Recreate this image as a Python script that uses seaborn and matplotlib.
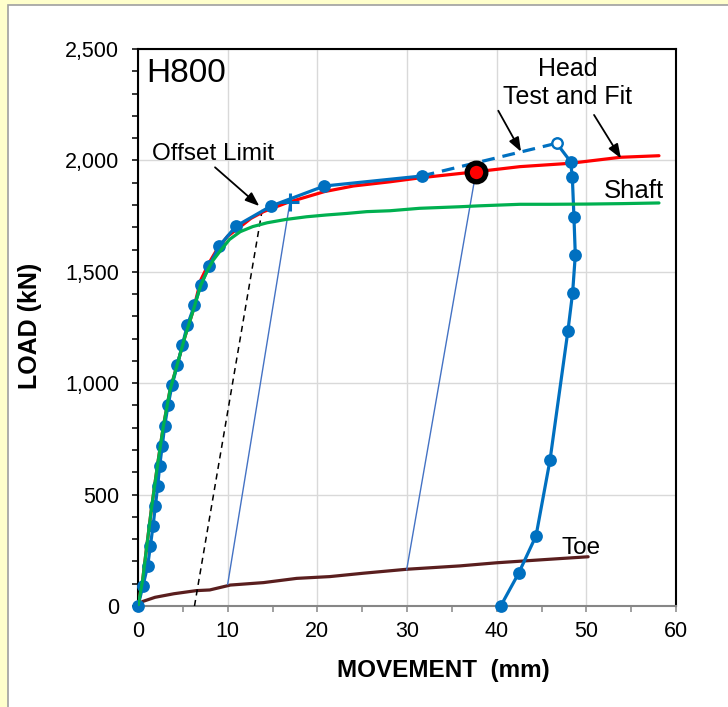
import matplotlib
matplotlib.use("Agg")
import matplotlib.pyplot as plt
import matplotlib.patches as mpatches
from matplotlib.ticker import FuncFormatter, MultipleLocator
import seaborn as sns

# ---------------- data ----------------
load_x = [0, 0.55, 1.08, 1.38, 1.68, 1.94, 2.20, 2.42, 2.71, 2.98, 3.35, 3.79, 4.38,
          4.94, 5.50, 6.30, 7.00, 7.92, 9.05, 10.93, 14.83, 20.78, 31.64]
load_y = [0, 90, 180, 270, 360, 450, 540, 630, 720, 810, 900, 990, 1080,
          1170, 1260, 1350, 1440, 1525, 1615, 1705, 1795, 1885, 1930]

extrap_x = [31.64, 46.69]
extrap_y = [1930, 2077]

unload_x = [46.69, 48.25, 48.44, 48.62, 48.77, 48.47, 47.95, 45.95, 44.39, 42.45, 40.45]
unload_y = [2077, 1994, 1924, 1744, 1575, 1406, 1236, 655, 315, 147, 0]

fit_x = [0, 0.52, 0.97, 1.53, 2.15, 2.82, 3.57, 4.31, 5.24, 6.17, 7.0, 8.0, 8.78,
         10.0, 11.4, 12.6, 14.0, 16.6, 20.8, 24.0, 28.1, 31.5, 37.7, 42.6, 48.2, 53.8, 58.1]
fit_y = [0, 117, 266, 446, 625, 805, 969, 1074, 1209, 1328, 1463, 1545, 1598,
         1660, 1702, 1740, 1770, 1810, 1860, 1885, 1904, 1922, 1949, 1972, 1987, 2014, 2021]

shaft_x = [0, 0.52, 0.97, 1.53, 2.15, 2.82, 3.57, 4.31, 5.24, 6.17, 7.0, 7.8, 8.4, 9.1,
           10.2, 11.4, 12.8, 14.4, 16.5, 18.8, 21.0, 23.3, 25.5, 28.1, 31.4, 35.9, 38.0,
           42.6, 46.0, 50.0, 54.0, 58.1]
shaft_y = [0, 117, 266, 446, 625, 805, 969, 1074, 1209, 1328, 1440, 1510, 1553, 1590,
           1645, 1680, 1703, 1720, 1735, 1747, 1755, 1762, 1770, 1774, 1785, 1792, 1796,
           1803, 1803, 1804, 1806, 1809]

toe_x = [0, 0.5, 1.9, 4.0, 6.5, 8.0, 10.3, 14.0, 17.7, 21.4, 25.1, 30.0, 35.9, 40.0, 45.6, 50.2]
toe_y = [0, 20, 39, 55, 69, 72, 94, 105, 124, 132, 147, 165, 180, 194, 209, 221]

offset_x = [6.3, 13.9]
offset_y = [0, 1790]

unl1_x = [10.0, 16.95]
unl1_y = [97, 1814]
unl2_x = [29.96, 37.69]
unl2_y = [162, 1949]

limit_pt = (16.95, 1814)
fit_pt = (37.69, 1949)

x_ticks = [0, 10, 20, 30, 40, 50, 60]
y_ticks = [0, 500, 1000, 1500, 2000, 2500]

# ---------------- style ----------------
sns.set_style("white")
plt.rcParams["font.family"] = ["Liberation Sans", "DejaVu Sans"]
plt.rcParams["text.color"] = "black"
plt.rcParams["axes.labelcolor"] = "black"
plt.rcParams["xtick.color"] = "black"
plt.rcParams["ytick.color"] = "black"

BLUE = "#0070C0"
RED = "#FF0000"
GREEN = "#00B050"
TOE = "#5A1E1E"
THIN = "#4472C4"

W, H = 728, 707
fig = plt.figure(figsize=(W / 100, H / 100), dpi=100, facecolor="#FFFFCC")
panel = mpatches.Rectangle((8 / W, -0.05), 1.2, (1 - 5 / H) + 0.05,
                           transform=fig.transFigure, facecolor="white",
                           edgecolor="#A0A0A0", lw=1.2, zorder=-10)
fig.patches.append(panel)

ax = fig.add_axes([138 / W, 1 - 606 / H, 538 / W, 557 / H])
ax.set_zorder(1)
ax.set_facecolor("white")


def line(x, y, **kw):
    sns.lineplot(x=x, y=y, sort=False, estimator=None, ax=ax, legend=False, **kw)


line(toe_x, toe_y, color=TOE, lw=2.3, zorder=3)
line(offset_x, offset_y, color="black", lw=1.1, linestyle=(0, (4, 3)), zorder=3)
line(unl1_x, unl1_y, color=THIN, lw=1.0, zorder=3)
line(unl2_x, unl2_y, color=THIN, lw=1.0, zorder=3)
line(fit_x, fit_y, color=RED, lw=2.3, zorder=4)
line(load_x, load_y, color=BLUE, lw=2.3, marker="o", markersize=9.2,
     markeredgecolor=BLUE, markeredgewidth=0, zorder=5, clip_on=False)
line(extrap_x, extrap_y, color=BLUE, lw=2.3, linestyle=(0, (4, 2.5)), zorder=5)
line(unload_x, unload_y, color=BLUE, lw=2.3, marker="o", markersize=9.2,
     markeredgecolor=BLUE, markeredgewidth=0, zorder=5, clip_on=False)
line(shaft_x, shaft_y, color=GREEN, lw=2.3, zorder=6)

# open circle at the last load point
sns.scatterplot(x=[unload_x[0]], y=[unload_y[0]], s=50, facecolor="white",
                edgecolor=BLUE, linewidth=1.3, zorder=7, ax=ax, legend=False)
# offset limit marker
sns.scatterplot(x=[limit_pt[0]], y=[limit_pt[1]], marker="+", s=170, color=BLUE,
                linewidth=2.2, zorder=7, ax=ax, legend=False)
# fit point
sns.scatterplot(x=[fit_pt[0]], y=[fit_pt[1]], s=180, facecolor=RED,
                edgecolor="black", linewidth=3.8, zorder=8, ax=ax, legend=False)

# ---------------- axes ----------------
ax.set_xlim(0, 60)
ax.set_ylim(0, 2500)
ax.set_xticks(x_ticks)
ax.set_yticks(y_ticks)
ax.xaxis.set_minor_locator(MultipleLocator(5))
ax.yaxis.set_minor_locator(MultipleLocator(100))
ax.yaxis.set_major_formatter(FuncFormatter(lambda v, p: f"{v:,.0f}"))
ax.grid(True, which="major", color="#D9D9D9", lw=1.0)
ax.set_axisbelow(True)

for s in ["top", "right", "left"]:
    ax.spines[s].set_color("black")
    ax.spines[s].set_linewidth(1.5)
ax.spines["bottom"].set_color("#868686")
ax.spines["bottom"].set_linewidth(1.5)

ax.tick_params(axis="y", which="both", direction="out", length=4.5, width=1.1,
               color="black", left=True, labelsize=15.5, pad=9, labelcolor="black")
ax.tick_params(axis="x", which="both", direction="out", length=4.5, width=1.1,
               color="#868686", bottom=True, labelsize=15.5, pad=6, labelcolor="black")

ax.set_xlabel("MOVEMENT  (mm)", fontsize=17.5, fontweight="bold", color="black")
ax.xaxis.set_label_coords(0.567, -0.095)
ax.set_ylabel("LOAD (kN)", fontsize=18, fontweight="bold", color="black")
ax.yaxis.set_label_coords(-0.178, 0.503)

# ---------------- annotations ----------------
ax.text(0.97, 2350, "H800", fontsize=24, ha="left", va="baseline", zorder=9)
ax.text(1.56, 2002, "Offset Limit", fontsize=17.5, ha="left", va="baseline", zorder=9)
ax.text(47.9, 2380, "Head", fontsize=18, ha="center", va="baseline", zorder=9)
ax.text(47.9, 2253, "Test and Fit", fontsize=18, ha="center", va="baseline", zorder=9)
ax.text(55.3, 1830, "Shaft", fontsize=18.5, ha="center", va="baseline", zorder=9)
ax.text(49.4, 233, "Toe", fontsize=17.5, ha="center", va="baseline", zorder=9)

arrow = dict(arrowstyle="-|>,head_length=0.85,head_width=0.32", color="black",
             lw=1.3, shrinkA=0, shrinkB=0, mutation_scale=10)
ax.annotate("", xy=(13.53, 1795), xytext=(8.59, 1969), arrowprops=arrow, zorder=9)
ax.annotate("", xy=(42.72, 2039), xytext=(40.18, 2223), arrowprops=arrow, zorder=9)
ax.annotate("", xy=(53.86, 2009), xytext=(50.86, 2204), arrowprops=arrow, zorder=9)

fig.savefig("out.png", dpi=100, facecolor=fig.get_facecolor())
